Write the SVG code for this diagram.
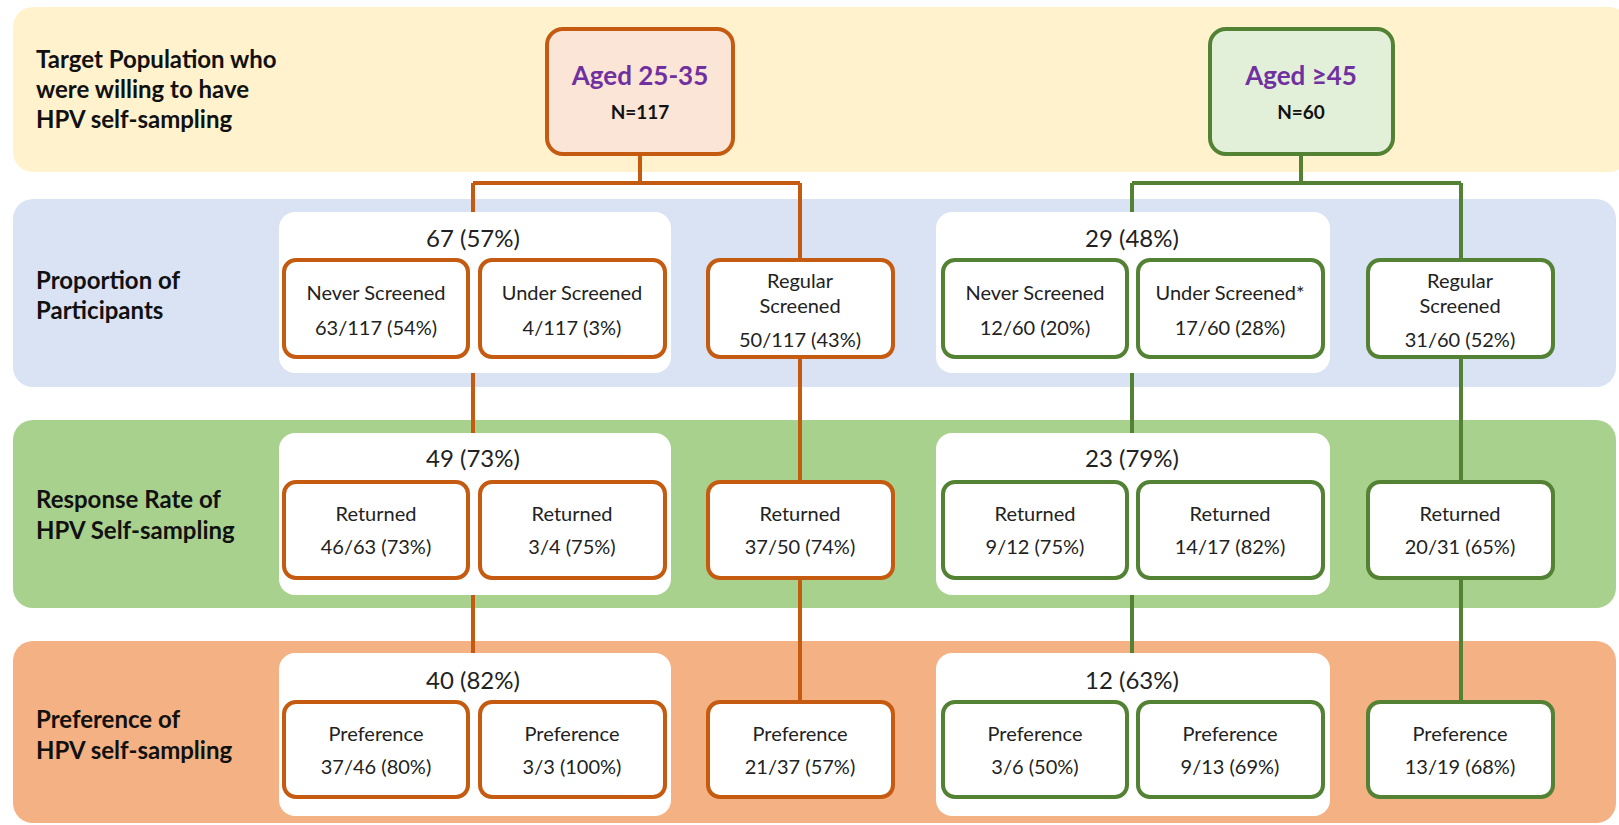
<svg xmlns="http://www.w3.org/2000/svg" width="1619" height="825" viewBox="0 0 1619 825">
<style>
.lbl{font-family:"Lato","Liberation Sans",sans-serif;font-weight:bold;font-size:24px;fill:#111}
.t{font-family:"Lato","Liberation Sans",sans-serif;font-size:20px;fill:#222;text-anchor:middle;dominant-baseline:central}
.cnt{font-family:"Lato","Liberation Sans",sans-serif;font-size:24px;fill:#222;text-anchor:middle;dominant-baseline:central}
.ob{fill:#fff;stroke:#C55A11;stroke-width:4}
.gb{fill:#fff;stroke:#548235;stroke-width:4}
.panel{fill:#fff}
.oc{stroke:#C55A11;stroke-width:4;fill:none}
.gc{stroke:#548235;stroke-width:4;fill:none}
.head{font-family:"Lato","Liberation Sans",sans-serif;font-weight:bold;font-size:26px;fill:#7030A0;text-anchor:middle;dominant-baseline:central}
.n{font-family:"Lato","Liberation Sans",sans-serif;font-weight:bold;font-size:19px;fill:#111;text-anchor:middle;dominant-baseline:central}
</style>
<rect width="1619" height="825" fill="#fff"/>
<g id="bands">
<rect x="13" y="7" width="1616" height="165" rx="20" fill="#FFF2CC"/>
<rect x="13" y="199" width="1603" height="188" rx="20" fill="#DAE3F3"/>
<rect x="13" y="420" width="1603" height="188" rx="20" fill="#A9D18E"/>
<rect x="13" y="641" width="1603" height="182" rx="20" fill="#F4B183"/>
</g>
<g id="row-labels">
<text class="lbl" x="36" y="68">Target Population who</text>
<text class="lbl" x="36" y="98">were willing to have</text>
<text class="lbl" x="36" y="128">HPV self-sampling</text>
<text class="lbl" x="36" y="289">Proportion of</text>
<text class="lbl" x="36" y="319">Participants</text>
<text class="lbl" x="36" y="508">Response Rate of</text>
<text class="lbl" x="36" y="539">HPV Self-sampling</text>
<text class="lbl" x="36" y="728">Preference of</text>
<text class="lbl" x="36" y="759">HPV self-sampling</text>
</g>
<g id="connectors">
<path class="oc" d="M640 154V183M473 183H800M473 183V660M800 183V710"/>
<path class="gc" d="M1301 154V183M1132 183H1461M1132 183V660M1461 183V710"/>
</g>
<g id="panels">
<rect class="panel" x="279" y="212" width="392" height="161" rx="16"/>
<rect class="panel" x="936" y="212" width="394" height="161" rx="16"/>
<rect class="panel" x="279" y="433" width="392" height="162" rx="16"/>
<rect class="panel" x="936" y="433" width="394" height="162" rx="16"/>
<rect class="panel" x="279" y="653" width="392" height="163" rx="16"/>
<rect class="panel" x="936" y="653" width="394" height="163" rx="16"/>
<text class="cnt" x="473" y="237">67 (57%)</text>
<text class="cnt" x="1132" y="237">29 (48%)</text>
<text class="cnt" x="473" y="457">49 (73%)</text>
<text class="cnt" x="1132" y="457">23 (79%)</text>
<text class="cnt" x="473" y="679">40 (82%)</text>
<text class="cnt" x="1132" y="679">12 (63%)</text>
</g>
<g id="aged-25-35">
<rect x="547" y="29" width="186" height="125" rx="16" fill="#FBE5D6" stroke="#C55A11" stroke-width="4"/>
<text class="head" x="640" y="75">Aged 25-35</text>
<text class="n" x="640" y="111">N=117</text>
</g>
<g id="aged-45">
<rect x="1210" y="29" width="183" height="125" rx="16" fill="#E2F0D9" stroke="#548235" stroke-width="4"/>
<text class="head" x="1301" y="75">Aged ≥45</text>
<text class="n" x="1301" y="111">N=60</text>
</g>
<g id="o-never">
<rect class="ob" x="284" y="260" width="184" height="97" rx="12"/>
<text class="t" x="376" y="292">Never Screened</text>
<text class="t" x="376" y="327">63/117 (54%)</text>
</g>
<g id="o-under">
<rect class="ob" x="480" y="260" width="185" height="97" rx="12"/>
<text class="t" x="572" y="292">Under Screened</text>
<text class="t" x="572" y="327">4/117 (3%)</text>
</g>
<g id="o-regular">
<rect class="ob" x="708" y="260" width="185" height="97" rx="12"/>
<text class="t" x="800" y="280">Regular</text>
<text class="t" x="800" y="305">Screened</text>
<text class="t" x="800" y="339">50/117 (43%)</text>
</g>
<g id="g-never">
<rect class="gb" x="943" y="260" width="184" height="97" rx="12"/>
<text class="t" x="1035" y="292">Never Screened</text>
<text class="t" x="1035" y="327">12/60 (20%)</text>
</g>
<g id="g-under">
<rect class="gb" x="1138" y="260" width="185" height="97" rx="12"/>
<text class="t" x="1230" y="292">Under Screened*</text>
<text class="t" x="1230" y="327">17/60 (28%)</text>
</g>
<g id="g-regular">
<rect class="gb" x="1368" y="260" width="185" height="97" rx="12"/>
<text class="t" x="1460" y="280">Regular</text>
<text class="t" x="1460" y="305">Screened</text>
<text class="t" x="1460" y="339">31/60 (52%)</text>
</g>
<g id="o-never-ret">
<rect class="ob" x="284" y="482" width="184" height="96" rx="12"/>
<text class="t" x="376" y="513">Returned</text>
<text class="t" x="376" y="546">46/63 (73%)</text>
</g>
<g id="o-under-ret">
<rect class="ob" x="480" y="482" width="185" height="96" rx="12"/>
<text class="t" x="572" y="513">Returned</text>
<text class="t" x="572" y="546">3/4 (75%)</text>
</g>
<g id="o-regular-ret">
<rect class="ob" x="708" y="482" width="185" height="96" rx="12"/>
<text class="t" x="800" y="513">Returned</text>
<text class="t" x="800" y="546">37/50 (74%)</text>
</g>
<g id="g-never-ret">
<rect class="gb" x="943" y="482" width="184" height="96" rx="12"/>
<text class="t" x="1035" y="513">Returned</text>
<text class="t" x="1035" y="546">9/12 (75%)</text>
</g>
<g id="g-under-ret">
<rect class="gb" x="1138" y="482" width="185" height="96" rx="12"/>
<text class="t" x="1230" y="513">Returned</text>
<text class="t" x="1230" y="546">14/17 (82%)</text>
</g>
<g id="g-regular-ret">
<rect class="gb" x="1368" y="482" width="185" height="96" rx="12"/>
<text class="t" x="1460" y="513">Returned</text>
<text class="t" x="1460" y="546">20/31 (65%)</text>
</g>
<g id="o-never-pref">
<rect class="ob" x="284" y="702" width="184" height="95" rx="12"/>
<text class="t" x="376" y="733">Preference</text>
<text class="t" x="376" y="766">37/46 (80%)</text>
</g>
<g id="o-under-pref">
<rect class="ob" x="480" y="702" width="185" height="95" rx="12"/>
<text class="t" x="572" y="733">Preference</text>
<text class="t" x="572" y="766">3/3 (100%)</text>
</g>
<g id="o-regular-pref">
<rect class="ob" x="708" y="702" width="185" height="95" rx="12"/>
<text class="t" x="800" y="733">Preference</text>
<text class="t" x="800" y="766">21/37 (57%)</text>
</g>
<g id="g-never-pref">
<rect class="gb" x="943" y="702" width="184" height="95" rx="12"/>
<text class="t" x="1035" y="733">Preference</text>
<text class="t" x="1035" y="766">3/6 (50%)</text>
</g>
<g id="g-under-pref">
<rect class="gb" x="1138" y="702" width="185" height="95" rx="12"/>
<text class="t" x="1230" y="733">Preference</text>
<text class="t" x="1230" y="766">9/13 (69%)</text>
</g>
<g id="g-regular-pref">
<rect class="gb" x="1368" y="702" width="185" height="95" rx="12"/>
<text class="t" x="1460" y="733">Preference</text>
<text class="t" x="1460" y="766">13/19 (68%)</text>
</g>
</svg>
